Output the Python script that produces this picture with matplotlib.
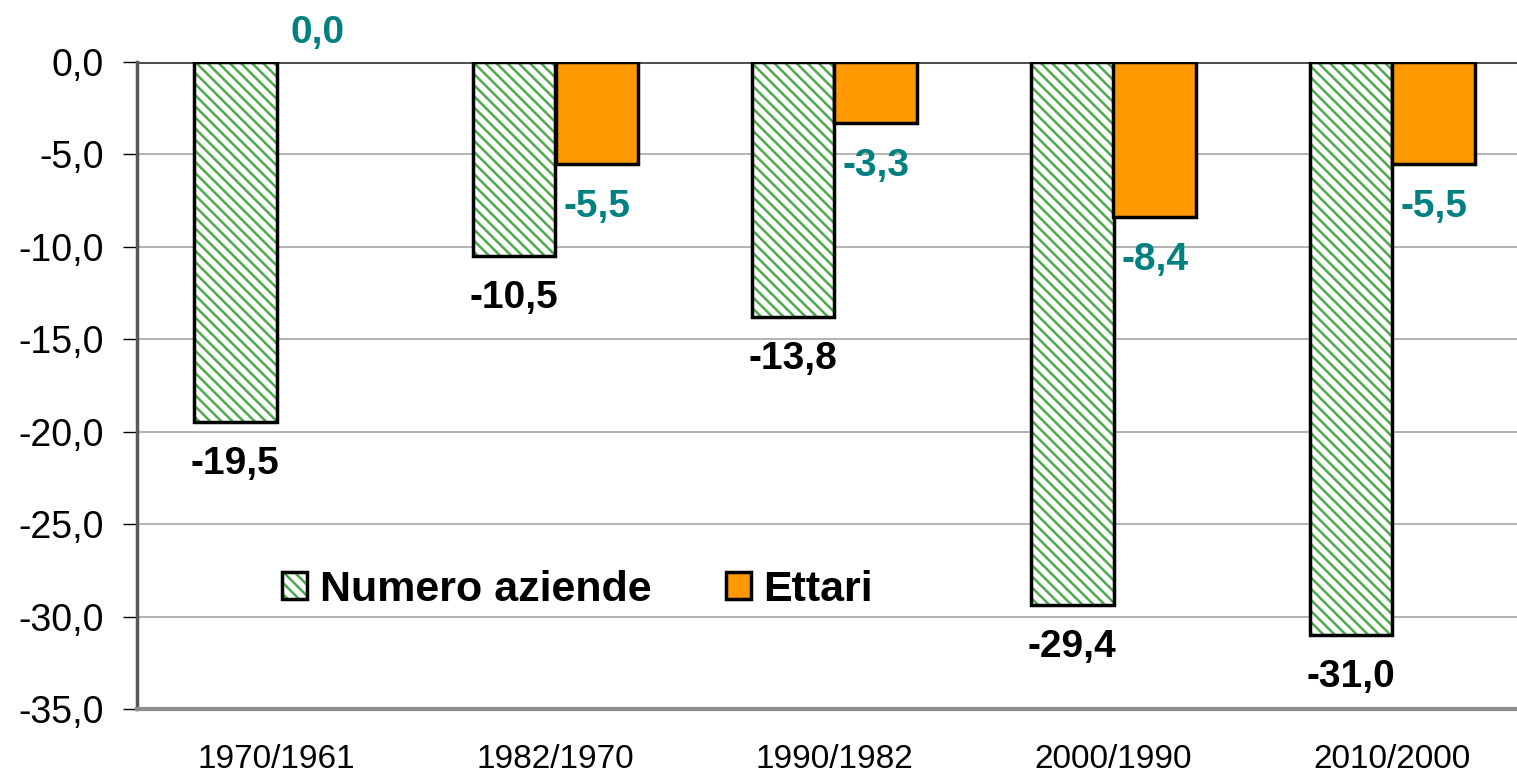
import numpy as np
import matplotlib
matplotlib.use("Agg")
import matplotlib.pyplot as plt
from matplotlib.patches import Patch

plt.rcParams['font.family'] = ['Liberation Sans', 'DejaVu Sans']
plt.rcParams['hatch.linewidth'] = 1.8

periods = ["1970/1961", "1982/1970", "1990/1982", "2000/1990", "2010/2000"]
aziende = [-19.5, -10.5, -13.8, -29.4, -31.0]
ettari = [0.0, -5.5, -3.3, -8.4, -5.5]
yticks = [0, -5, -10, -15, -20, -25, -30, -35]

green = '#4DAA4D'
orange = '#FF9900'
teal = '#008080'


def fmt(v):
    return f"{v:.1f}".replace('.', ',')


fig = plt.figure(figsize=(15.17, 7.72), dpi=100)
ax = fig.add_axes([137/1517, 1 - 709/772, 1395/1517, 647/772])

x = np.arange(len(periods))
w = 0.297

# hatched green fill, then black outline on top
ax.bar(x - w/2, aziende, w, facecolor='white', edgecolor=green, hatch='\\\\\\', linewidth=0, zorder=2)
ax.bar(x - w/2, aziende, w, fill=False, edgecolor='black', linewidth=2.5, zorder=3)
lw_et = [0 if v == 0 else 2.5 for v in ettari]
ax.bar(x + w/2, ettari, w, facecolor=orange, edgecolor='black', linewidth=lw_et, zorder=3)

for xi, v in zip(x, aziende):
    ax.annotate(fmt(v), (xi - w/2, v), xytext=(0, -30), textcoords='offset points',
                ha='center', va='center', fontsize=28, fontweight='bold', color='black',
                annotation_clip=False)
for xi, v in zip(x, ettari):
    off = 21 if v == 0 else -31
    ax.annotate(fmt(v), (xi + w/2, v), xytext=(0, off), textcoords='offset points',
                ha='center', va='center', fontsize=28, fontweight='bold', color=teal,
                annotation_clip=False)

ax.set_xlim(-0.5, len(periods) - 0.5)
ax.set_ylim(-35, 0)
ax.set_yticks(yticks)
ax.set_yticklabels([fmt(t) for t in yticks])
ax.set_xticks(x)
ax.set_xticklabels(periods)
ax.tick_params(axis='y', labelsize=27, length=10, width=1, pad=14, color='black')
ax.tick_params(axis='x', labelsize=24, length=0, pad=25)

ax.grid(axis='y', color='#A6A6A6', linewidth=1.2, zorder=0)
ax.set_axisbelow(True)
ax.axhline(0, color='#505050', linewidth=2.2, zorder=1)
for s in ['top', 'right']:
    ax.spines[s].set_visible(False)
ax.spines['left'].set_color('#595959')
ax.spines['left'].set_linewidth(2.5)
ax.spines['bottom'].set_color('#8C8C8C')
ax.spines['bottom'].set_linewidth(3)

h_green = (Patch(facecolor='white', edgecolor=green, hatch='\\\\\\', linewidth=0),
           Patch(fill=False, edgecolor='black', linewidth=2.5))
h_orange = Patch(facecolor=orange, edgecolor='black', linewidth=2.5)
ax.legend([h_green, h_orange], ["Numero aziende", "Ettari"], ncol=2, frameon=False,
          loc='center left', bbox_to_anchor=(0.104, 0.184), borderaxespad=0, borderpad=0,
          prop={'size': 31, 'weight': 'bold'}, handlelength=0.58, handleheight=0.58,
          handletextpad=0.3, columnspacing=1.72)

fig.savefig("out.png", dpi=100)
